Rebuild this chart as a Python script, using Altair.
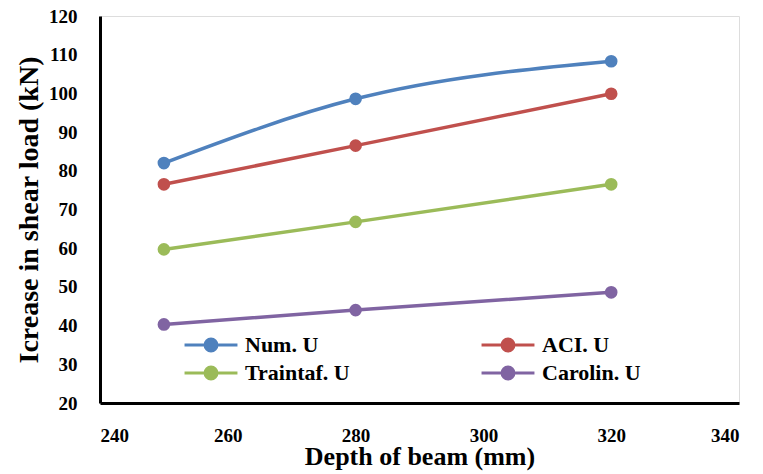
import altair as alt
import pandas as pd

depths = [250, 280, 320]
num_u = [82.0, 98.6, 108.3]
aci_u = [76.5, 86.5, 99.9]
traintaf_u = [59.7, 66.8, 76.5]
carolin_u = [40.3, 44.0, 48.6]

series_names = ["Num. U", "ACI. U", "Traintaf. U", "Carolin. U"]
series_values = [num_u, aci_u, traintaf_u, carolin_u]
colors = ["#4F81BD", "#C0504D", "#9BBB59", "#8064A2"]

rows = []
for name, vals in zip(series_names, series_values):
    for d, v in zip(depths, vals):
        rows.append({"depth": d, "load": v, "series": name})
df = pd.DataFrame(rows)

FONT = "Liberation Serif"

color = alt.Color(
    "series:N",
    sort=series_names,
    scale=alt.Scale(domain=series_names, range=colors),
    legend=alt.Legend(
        title=None,
        orient="none",
        direction="horizontal",
        legendX=96,
        legendY=314,
        columns=2,
        columnPadding=125,
        rowPadding=1,
        symbolType="M-2,0L2,0M-0.45,0A0.45,0.45,0,1,1,0.45,0A0.45,0.45,0,1,1,-0.45,0Z",
        symbolSize=700,
        symbolStrokeWidth=3,
        symbolOpacity=1,
        labelFont=FONT,
        labelFontSize=22,
        labelFontWeight="bold",
        labelColor="black",
        labelOffset=19,
        labelLimit=300,
    ),
)

x = alt.X(
    "depth:Q",
    scale=alt.Scale(domain=[240, 340], nice=False, zero=False),
    axis=alt.Axis(
        values=[240, 260, 280, 300, 320, 340],
        title="Depth of beam (mm)",
        titleFont=FONT,
        titleFontSize=26,
        titleFontWeight="bold",
        titleColor="black",
        titlePadding=-2,
        labelFont=FONT,
        labelFontSize=19,
        labelFontWeight="bold",
        labelColor="black",
        labelPadding=23,
        ticks=False,
        grid=False,
        domainColor="black",
        domainWidth=3,
    ),
)
y = alt.Y(
    "load:Q",
    scale=alt.Scale(domain=[20, 120], nice=False, zero=False),
    axis=alt.Axis(
        values=list(range(20, 121, 10)),
        title="Icrease in shear load (kN)",
        titleFont=FONT,
        titleFontSize=28,
        titleFontWeight="bold",
        titleColor="black",
        titlePadding=5,
        labelFont=FONT,
        labelFontSize=19,
        labelFontWeight="bold",
        labelColor="black",
        labelPadding=23,
        ticks=False,
        grid=False,
        domainColor="black",
        domainWidth=3,
    ),
)

base = alt.Chart(df)
lines = base.mark_line(strokeWidth=3.5, interpolate="monotone").encode(
    x=x, y=y, color=color, detail="series:N"
)
points = base.mark_circle(size=160, opacity=1).encode(x=x, y=y, color=color)

chart = (
    alt.layer(lines, points)
    .properties(
        width=639,
        height=387,
        autosize=alt.AutoSizeParams(type="none"),
        padding={"left": 100, "top": 16, "right": 24, "bottom": 71},
    )
    .configure_view(stroke="black", strokeWidth=1.5)
    .configure(background="white")
)

chart.save("out.html", embed_options={"renderer": "svg", "actions": False})
